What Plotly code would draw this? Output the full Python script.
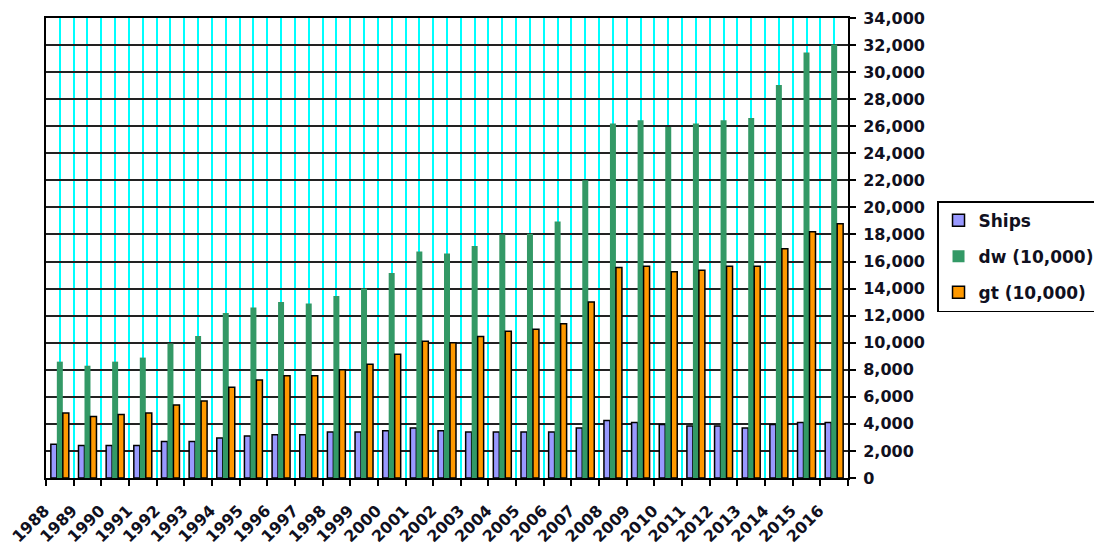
import plotly.graph_objects as go

# Fleet statistics by year
years = ["1988", "1989", "1990", "1991", "1992", "1993", "1994", "1995", "1996", "1997",
         "1998", "1999", "2000", "2001", "2002", "2003", "2004", "2005", "2006", "2007",
         "2008", "2009", "2010", "2011", "2012", "2013", "2014", "2015", "2016"]

ships = [2500, 2400, 2400, 2400, 2700, 2700, 2950, 3100, 3200, 3200,
         3400, 3400, 3500, 3700, 3500, 3400, 3400, 3400, 3400, 3700,
         4250, 4100, 3950, 3850, 3850, 3700, 3950, 4100, 4100]

dw = [8600, 8300, 8600, 8900, 9950, 10500, 12200, 12600, 13000, 12900,
      13450, 14000, 15150, 16750, 16600, 17150, 18000, 18050, 18950, 22000,
      26200, 26450, 25950, 26200, 26450, 26600, 29050, 31450, 32050]

gt = [4800, 4550, 4700, 4800, 5400, 5700, 6700, 7250, 7550, 7550,
      8000, 8400, 9150, 10100, 10000, 10450, 10850, 11000, 11400, 13000,
      15550, 15650, 15250, 15350, 15650, 15650, 16950, 18200, 18800]

series_names = ["Ships", "dw (10,000)", "gt (10,000)"]
y_ticks = [0, 2000, 4000, 6000, 8000, 10000, 12000, 14000, 16000, 18000,
           20000, 22000, 24000, 26000, 28000, 30000, 32000, 34000]

pos = list(range(len(years)))
bounds = [p - 0.5 for p in pos] + [pos[-1] + 0.5]

FONT = "DejaVu Sans"
TXT = "#101020"

fig = go.Figure()
fig.add_trace(go.Bar(x=pos, y=ships, name=series_names[0], legendgroup="a",
                     marker=dict(color="#9999FF", line=dict(color="black", width=1.5))))
fig.add_trace(go.Bar(x=pos, y=dw, name=series_names[1], legendgroup="b",
                     marker=dict(color="#339966", line=dict(color="#339966", width=0))))
fig.add_trace(go.Bar(x=pos, y=gt, name=series_names[2], legendgroup="c",
                     marker=dict(color="#FF9900", line=dict(color="black", width=1.5))))

fig.update_layout(
    template="none",
    width=1094, height=547,
    margin=dict(l=46, r=246, t=18, b=69, autoexpand=False),
    paper_bgcolor="white", plot_bgcolor="white",
    barmode="group", bargap=0.35, bargroupgap=0,
    font=dict(family=FONT, size=16, color=TXT, weight="bold"),
    legend=dict(
        x=1.111, xanchor="left", y=0.602, yanchor="top",
        bgcolor="white", bordercolor="black", borderwidth=1.5,
        font=dict(family=FONT, size=17, color=TXT, weight="bold"),
        traceorder="grouped", tracegroupgap=11,
    ),
    xaxis=dict(
        range=[-0.5, len(years) - 0.5],
        tickmode="array", tickvals=pos, ticktext=years,
        tickangle=-45, ticks="",
        ticklabelstandoff=15, ticklabelshift=-15,
        showgrid=True, gridcolor="#00FFFF", gridwidth=1.5,
        minor=dict(tickmode="array", tickvals=bounds, ticks="outside",
                   ticklen=6, tickwidth=1.5, tickcolor="black",
                   showgrid=True, gridcolor="#00FFFF", gridwidth=1.5),
        showline=True, linecolor="black", linewidth=2, mirror=True,
        zeroline=False, automargin=False,
        tickfont=dict(family=FONT, size=16, color=TXT, weight="bold"),
    ),
    yaxis=dict(
        side="right", range=[0, 34000],
        tickmode="array", tickvals=y_ticks, tickformat=",d",
        ticks="outside", ticklen=6, tickwidth=1.5, tickcolor="black",
        ticklabelstandoff=4,
        showgrid=True, gridcolor="#222222", gridwidth=1.5,
        showline=True, linecolor="black", linewidth=2, mirror=True,
        zeroline=False, automargin=False,
        tickfont=dict(family=FONT, size=16, color=TXT, weight="bold"),
    ),
)

fig.write_html("out.html")
